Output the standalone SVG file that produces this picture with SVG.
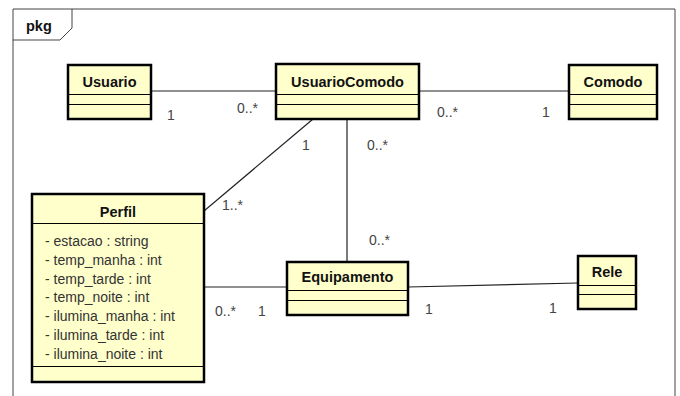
<svg xmlns="http://www.w3.org/2000/svg" width="680" height="396" viewBox="0 0 680 396">
<style>
.box{fill:#FFFFCC;stroke:#000;stroke-width:2.5}
.sep{stroke:#000;stroke-width:1;fill:none}
.name{font-family:"Liberation Sans",Arial,sans-serif;font-weight:bold;font-size:14.5px;fill:#111;text-anchor:middle}
.attr{font-family:"Liberation Sans",Arial,sans-serif;font-size:14px;fill:#333}
.lbl{font-family:"Liberation Sans",Arial,sans-serif;font-size:14px;fill:#444}
.conn{stroke:#222;stroke-width:1.2;fill:none}
</style>
<rect width="680" height="396" fill="#fff"/>
<g id="frame">
<path d="M13,400 V9 H675 V400" fill="none" stroke="#444" stroke-width="1"/>
<path d="M13,40 H60 L72,28 V9" fill="none" stroke="#444" stroke-width="1"/>
<text x="26" y="31" class="name" style="text-anchor:start">pkg</text>
</g>
<g id="connectors">
<line class="conn" x1="151" y1="91" x2="276" y2="91"/>
<line class="conn" x1="419" y1="91" x2="569" y2="91"/>
<line class="conn" x1="313" y1="119" x2="204" y2="211"/>
<line class="conn" x1="347" y1="119" x2="347" y2="262"/>
<line class="conn" x1="204" y1="287" x2="287" y2="287"/>
<line class="conn" x1="408" y1="287" x2="578" y2="283"/>
<text class="lbl" x="167" y="120">1</text>
<text class="lbl" x="237" y="113">0..*</text>
<text class="lbl" x="437" y="117">0..*</text>
<text class="lbl" x="542" y="117">1</text>
<text class="lbl" x="302" y="150">1</text>
<text class="lbl" x="367" y="150">0..*</text>
<text class="lbl" x="222" y="210">1..*</text>
<text class="lbl" x="369" y="245">0..*</text>
<text class="lbl" x="215" y="316">0..*</text>
<text class="lbl" x="258" y="316">1</text>
<text class="lbl" x="425" y="314">1</text>
<text class="lbl" x="549" y="313">1</text>
</g>
<g id="Usuario">
<rect class="box" x="68" y="65" width="83" height="54"/>
<path class="sep" d="M68,94.5 H151 M68,104.5 H151"/>
<text class="name" x="109.5" y="87">Usuario</text>
</g>
<g id="UsuarioComodo">
<rect class="box" x="276" y="64" width="143" height="55"/>
<path class="sep" d="M276,94.5 H419 M276,104.5 H419"/>
<text class="name" x="347.5" y="87">UsuarioComodo</text>
</g>
<g id="Comodo">
<rect class="box" x="569" y="65" width="88" height="54"/>
<path class="sep" d="M569,94.5 H657 M569,104.5 H657"/>
<text class="name" x="613" y="87">Comodo</text>
</g>
<g id="Perfil">
<rect class="box" x="32" y="194" width="172" height="188"/>
<path class="sep" d="M32,223.5 H204 M32,366.5 H204"/>
<text class="name" x="118" y="217">Perfil</text>
<text class="attr" x="45" y="246">- estacao : string</text>
<text class="attr" x="45" y="264.8">- temp_manha : int</text>
<text class="attr" x="45" y="283.6">- temp_tarde : int</text>
<text class="attr" x="45" y="302.4">- temp_noite : int</text>
<text class="attr" x="45" y="321.2">- ilumina_manha : int</text>
<text class="attr" x="45" y="340">- ilumina_tarde : int</text>
<text class="attr" x="45" y="358.8">- ilumina_noite : int</text>
</g>
<g id="Equipamento">
<rect class="box" x="287" y="262" width="121" height="53"/>
<path class="sep" d="M287,290.5 H408 M287,300.5 H408"/>
<text class="name" x="347.5" y="282">Equipamento</text>
</g>
<g id="Rele">
<rect class="box" x="578" y="256" width="58" height="53"/>
<path class="sep" d="M578,285.5 H636 M578,294.5 H636"/>
<text class="name" x="607" y="277">Rele</text>
</g>
</svg>
